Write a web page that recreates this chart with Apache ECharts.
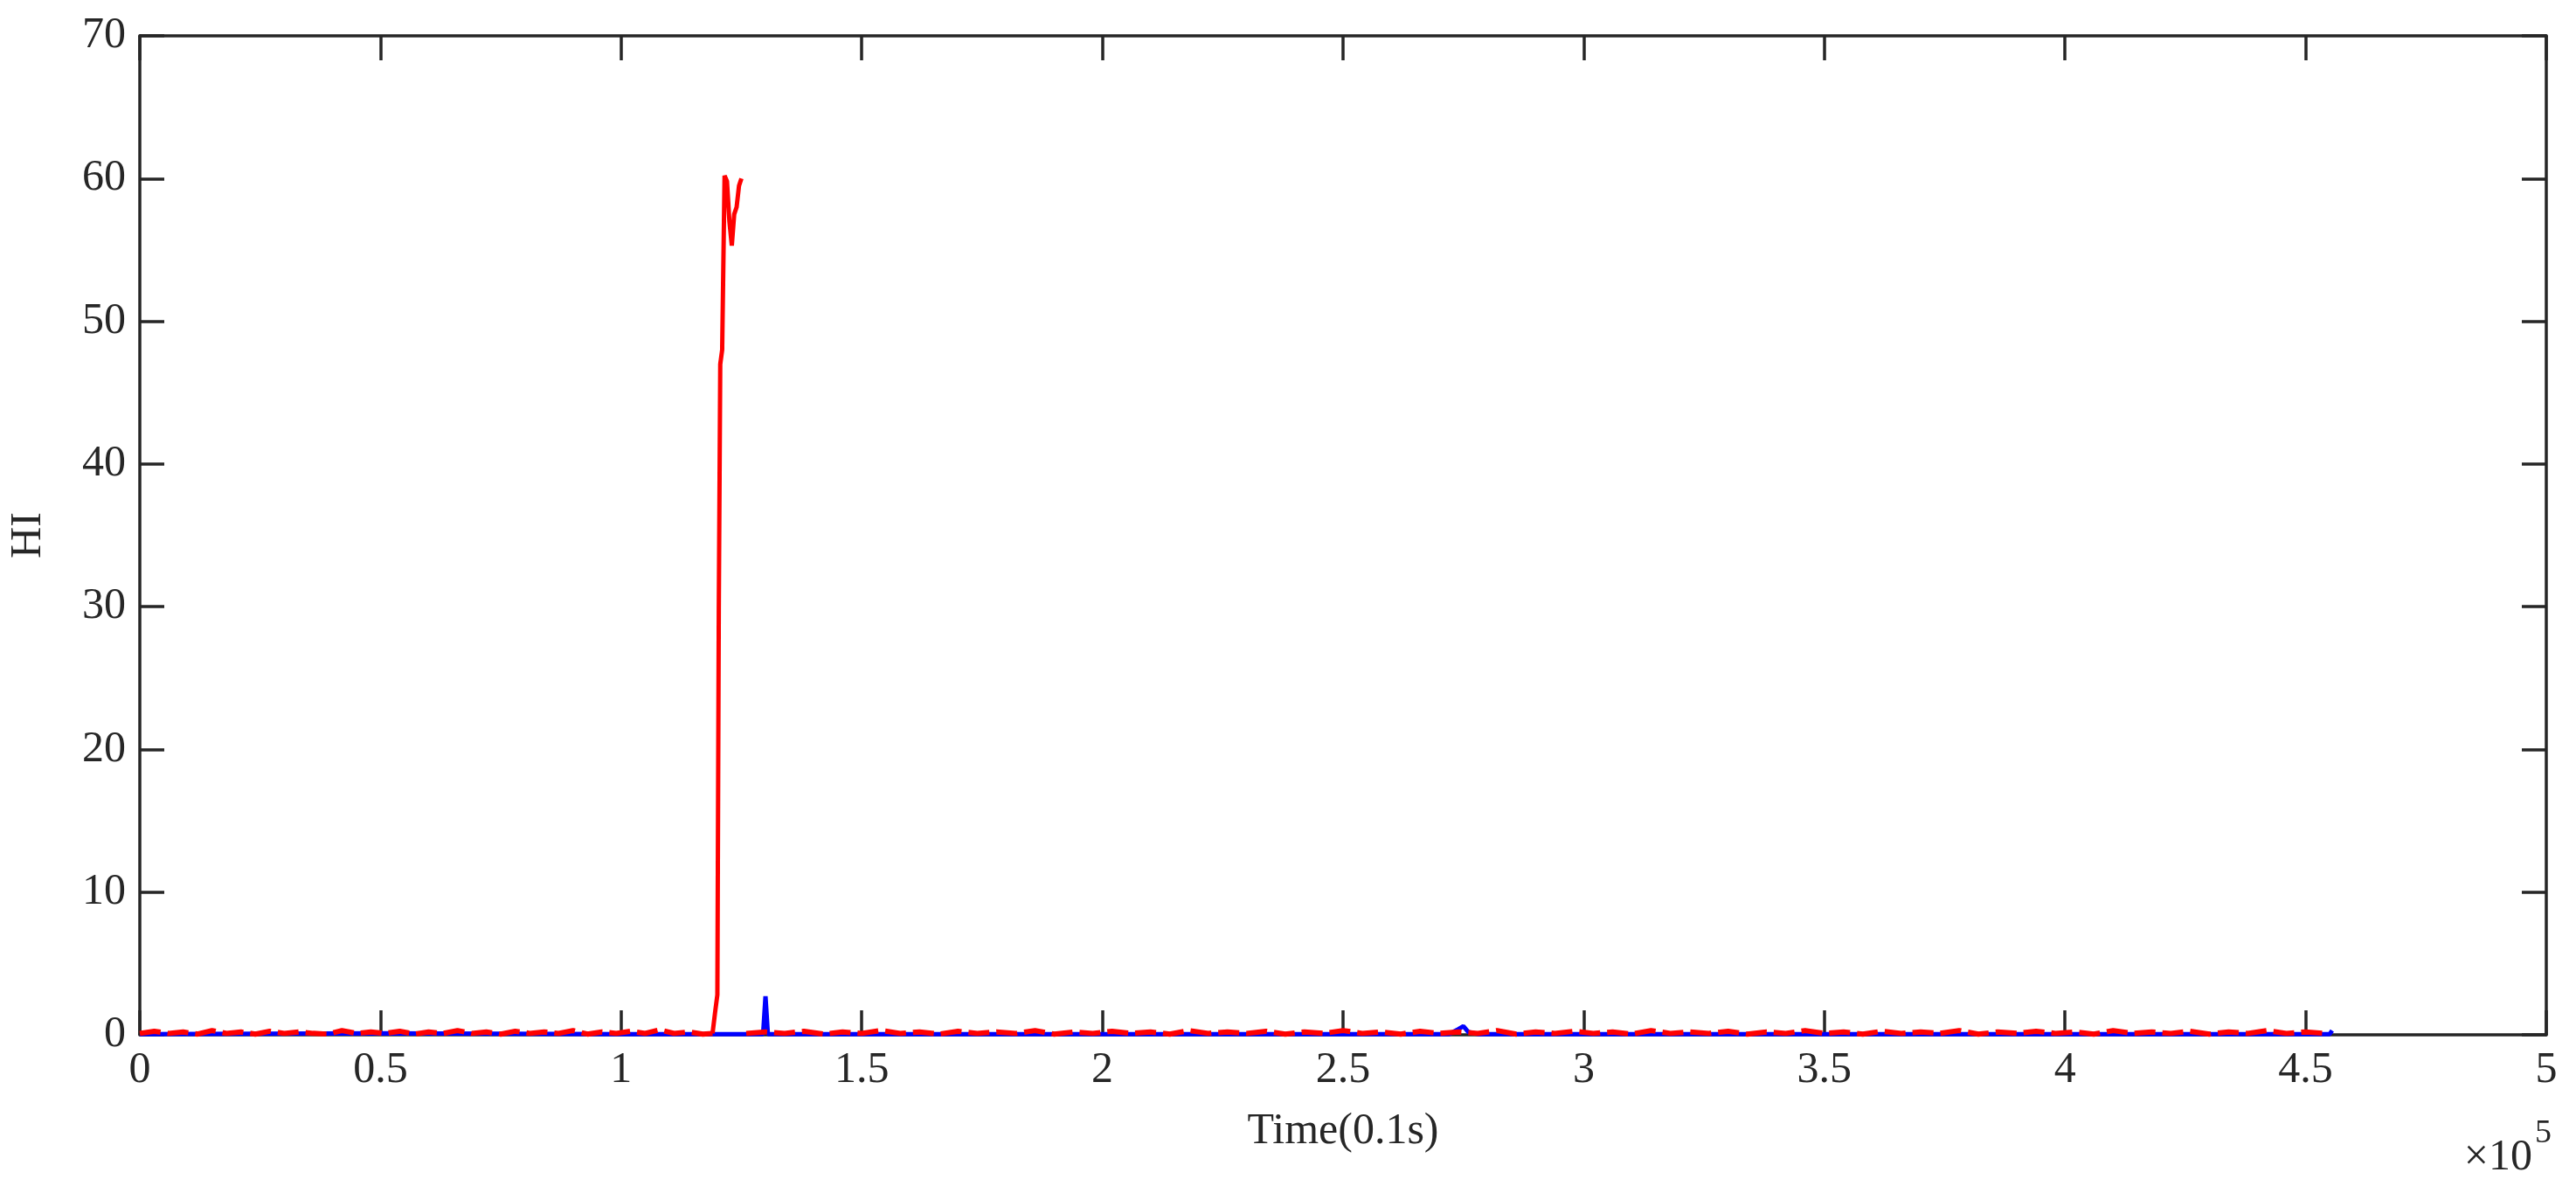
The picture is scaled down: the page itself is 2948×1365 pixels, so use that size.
<!DOCTYPE html>
<html><head><meta charset="utf-8">
<script src="https://cdn.jsdelivr.net/npm/echarts@6/dist/echarts.min.js"></script>
<style>html,body{margin:0;padding:0;background:#fff}#c{width:2948px;height:1365px}</style>
</head><body><div id="c"></div>
<script>
// x in samples (0.1s)
const redBaseX1 = [0,3000,6000,9000,12000,15000,18000,21000,24000,27000,30000,33000,36000,39000,42000,45000,48000,51000,54000,57000,60000,63000,66000,69000,72000,75000,78000,81000,84000,87000,90000,93000,96000,99000,102000,105000,108000,111000,114000,117000,119000];
const redBaseY1 = [0.1,0.25,0.1,0.2,0.05,0.3,0.1,0.2,0.05,0.25,0.1,0.2,0.1,0.05,0.3,0.1,0.2,0.1,0.25,0.05,0.2,0.1,0.3,0.1,0.2,0.05,0.25,0.1,0.2,0.1,0.3,0.05,0.2,0.1,0.25,0.1,0.35,0.1,0.2,0.05,0.1];
const spikeX = [119000,119500,120000,120300,120600,121000,121500,122000,122500,123000,123500,124000,124500,125000];
const spikeY = [0.1,1.5,2.8,30,47,48,60.2,59.8,57,55.3,57.5,58,59.5,60];
const redBaseX2 = [126000,130000,134000,138000,142000,146000,150000,154000,158000,162000,166000,170000,174000,178000,182000,186000,190000,194000,198000,202000,206000,210000,214000,218000,222000,226000,230000,234000,238000,242000,246000,250000,254000,258000,262000,266000,270000,274000,278000,282000,286000,290000,294000,298000,302000,306000,310000,314000,318000,322000,326000,330000,334000,338000,342000,346000,350000,354000,358000,362000,366000,370000,374000,378000,382000,386000,390000,394000,398000,402000,406000,410000,414000,418000,422000,426000,430000,434000,438000,442000,446000,450000,454000];
const redBaseY2 = [0.1,0.2,0.1,0.25,0.05,0.2,0.1,0.3,0.1,0.2,0.05,0.25,0.1,0.2,0.1,0.3,0.05,0.2,0.1,0.25,0.1,0.2,0.05,0.3,0.1,0.2,0.1,0.25,0.05,0.2,0.1,0.3,0.1,0.2,0.05,0.25,0.1,0.2,0.1,0.3,0.05,0.2,0.1,0.25,0.1,0.2,0.05,0.3,0.1,0.2,0.1,0.25,0.05,0.2,0.1,0.3,0.1,0.2,0.05,0.25,0.1,0.2,0.1,0.3,0.05,0.2,0.1,0.25,0.1,0.2,0.05,0.3,0.1,0.2,0.1,0.25,0.05,0.2,0.1,0.3,0.1,0.2,0.1];
const blueX = [0,50000,100000,118000,125000,129500,130000,130500,135000,200000,272000,274000,275000,276000,278000,350000,400000,455000,455500];
const blueY = [0.05,0.1,0.05,0.05,0.05,0.05,2.7,0.05,0.05,0.05,0.05,0.4,0.6,0.2,0.05,0.05,0.05,0.05,0.3];
const xTicks = [0,0.5,1,1.5,2,2.5,3,3.5,4,4.5,5];
const yTicks = [0,10,20,30,40,50,60,70];

const zip=(a,b)=>a.map((v,i)=>[v,b[i]]);
const font='Liberation Serif';
const c=echarts.init(document.getElementById('c'));
const axLine={show:true,onZero:false,lineStyle:{color:'#262626',width:3.5}};
const tick={show:true,inside:true,length:28,lineStyle:{color:'#262626',width:3.5}};
c.setOption({
  animation:false,
  grid:{left:160,right:34,top:41,bottom:181},
  xAxis:[{type:'value',min:0,max:500000,interval:50000,axisLine:axLine,axisTick:tick,splitLine:{show:false},
    axisLabel:{fontFamily:font,fontSize:50,color:'#262626',margin:16,formatter:v=>String(v/1e5)},
    name:'Time(0.1s)',nameLocation:'middle',nameGap:86,nameTextStyle:{fontFamily:font,fontSize:50,color:'#262626'}},
    {type:'value',position:'top',min:0,max:500000,interval:50000,axisLine:axLine,axisTick:tick,axisLabel:{show:false},splitLine:{show:false}}],
  yAxis:[{type:'value',min:0,max:70,interval:10,axisLine:axLine,axisTick:tick,splitLine:{show:false},
    axisLabel:{fontFamily:font,fontSize:50,color:'#262626',margin:16},
    name:'HI',nameLocation:'middle',nameGap:102,nameTextStyle:{fontFamily:font,fontSize:50,color:'#262626'}},
    {type:'value',position:'right',min:0,max:70,interval:10,axisLine:axLine,axisTick:tick,axisLabel:{show:false},splitLine:{show:false}}],
  graphic:[{type:'text',right:50,top:1300,style:{text:'×10',font:'50px Liberation Serif',fill:'#262626'}},
    {type:'text',right:28,top:1278,style:{text:'5',font:'38px Liberation Serif',fill:'#262626'}}],
  series:[
    {type:'line',data:zip(blueX,blueY),showSymbol:false,lineStyle:{color:'#0000ff',width:5}},
    {type:'line',data:zip(redBaseX1,redBaseY1),showSymbol:false,lineStyle:{color:'#ff0000',width:6,type:[24,8]}},
    {type:'line',data:zip(redBaseX2,redBaseY2),showSymbol:false,lineStyle:{color:'#ff0000',width:6,type:[24,8]}},
    {type:'line',data:zip(spikeX,spikeY),showSymbol:false,lineStyle:{color:'#ff0000',width:5}}
  ]
});
</script></body></html>
